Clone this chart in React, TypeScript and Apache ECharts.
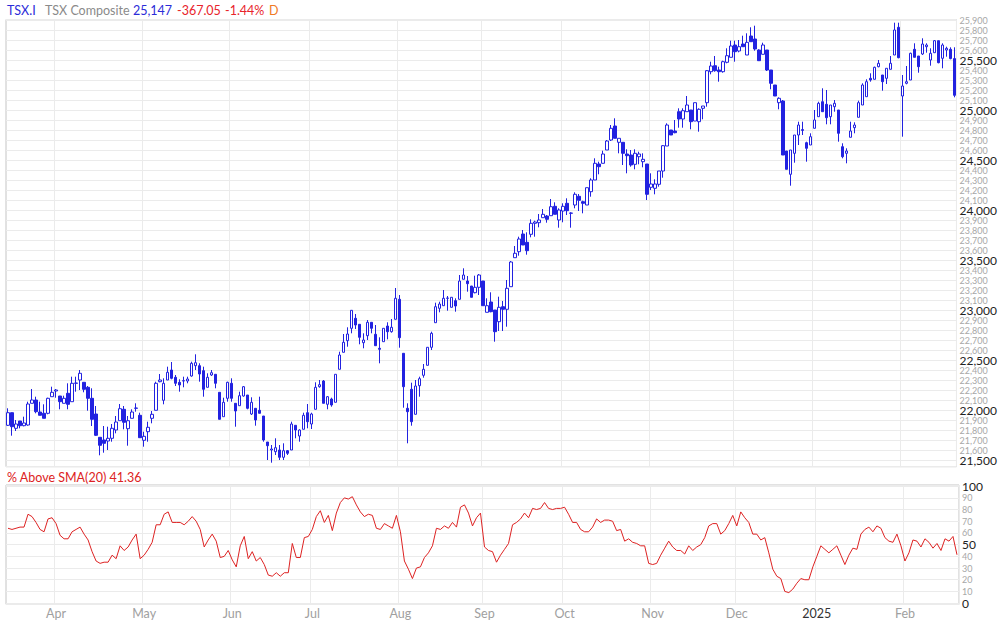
import React, { useEffect, useRef } from "react";
import * as echarts from "echarts";

// Trading calendar (TSX): first and last session, market holidays
const firstDay = "2024-03-13";
const lastDay = "2025-02-21";
const holidays = [
  "2024-03-29", "2024-05-20", "2024-07-01", "2024-08-05", "2024-09-02",
  "2024-10-14", "2024-12-25", "2024-12-26", "2025-01-01", "2025-02-17",
];
const monthNames = ["2025", "Feb", "Mar", "Apr", "May", "Jun", "Jul", "Aug", "Sep", "Oct", "Nov", "Dec"];

// Daily candles: [open, close, low, high]
const candles: number[][] = [
  [21847,21973,21840,22017],[21973,21833,21743,21975],[21817,21860,21790,21900],[21890,21843,21817,21890],[21843,21870,21837,21933],
  [21850,22060,21843,22083],[22067,22100,22067,22210],[22100,21983,21967,22133],[21980,21947,21947,22083],[21967,21917,21917,22057],
  [21967,22117,21957,22123],[22133,22177,22133,22233],[22190,22200,22123,22210],[22140,22083,22007,22140],[22067,22117,22067,22143],
  [22167,22057,22007,22267],[22083,22267,22083,22333],[22267,22270,22183,22333],[22300,22367,22200,22400],[22277,22207,22177,22277],
  [22227,22117,21993,22240],[22117,21907,21840,22217],[21960,21747,21740,22040],[21727,21647,21547,21727],[21700,21667,21573,21840],
  [21690,21717,21600,21833],[21717,21817,21683,21860],[21800,21880,21767,21940],[21893,22013,21893,22060],[22007,21877,21807,22040],
  [21813,21893,21643,21940],[21917,21980,21917,22007],[22017,22020,21983,22067],[21947,21723,21723,21973],[21697,21737,21633,21783],
  [21783,21827,21683,21883],[21917,21957,21867,21990],[21997,22267,21997,22283],[22283,22300,22277,22360],[22097,22267,22057,22317],
  [22300,22377,22300,22433],[22400,22317,22307,22480],[22327,22267,22240,22350],[22277,22250,22183,22307],[22290,22293,22227,22333],
  [22290,22310,22267,22333],[22340,22467,22333,22483],[22443,22473,22400,22557],[22443,22360,22283,22467],[22393,22207,22133,22433],
  [22227,22327,22227,22367],[22350,22373,22340,22400],[22357,22267,22217,22357],[22177,21907,21907,22177],[21933,22077,21933,22123],
  [22117,22277,22083,22283],[22267,22117,22083,22317],[22067,21990,21833,22067],[22043,22143,22043,22183],[22140,22233,22133,22240],
  [22150,22017,22007,22150],[21960,22077,21950,22127],[22017,21900,21843,22017],[21997,21967,21967,22133],[21940,21700,21683,21940],
  [21680,21643,21500,21680],[21600,21610,21473,21650],[21583,21623,21550,21717],[21600,21527,21500,21650],[21527,21593,21500,21667],
  [21593,21567,21550,21600],[21600,21860,21600,21883],[21847,21800,21717,21847],[21740,21800,21683,21807],[21807,21947,21807,21973],
  [21973,21883,21817,22060],[21860,21960,21810,21973],[22007,22227,22007,22277],[22233,22253,22223,22300],[22290,22067,22067,22300],
  [22057,22133,22007,22140],[22110,22050,22033,22123],[22077,22357,22077,22357],[22407,22550,22407,22583],[22577,22677,22577,22760],
  [22693,22760,22633,22827],[22817,22997,22767,22997],[22917,22850,22810,22960],[22857,22727,22657,22857],[22673,22700,22617,22767],
  [22743,22877,22700,22900],[22877,22817,22767,22877],[22757,22643,22643,22850],[22617,22607,22467,22727],[22683,22817,22683,22817],
  [22840,22783,22707,22877],[22783,22827,22773,22910],[22907,23117,22907,23220],[23107,22723,22623,23150],[22567,22233,22023,22567],
  [22017,21983,21667,22067],[22207,21883,21843,22273],[21957,22240,21957,22300],[22243,22313,22133,22333],[22347,22407,22323,22460],
  [22447,22627,22447,22627],[22627,22767,22600,22783],[22873,23033,22873,23073],[23017,23060,22977,23083],[23043,23117,23043,23200],
  [23117,23120,22993,23140],[23027,23127,23027,23127],[23093,23040,22983,23117],[23107,23290,23107,23350],[23307,23350,23307,23417],
  [23290,23263,23183,23340],[23240,23127,23127,23240],[23173,23227,23167,23343],[23227,23350,23150,23360],[23290,23043,23043,23290],
  [22977,23043,22977,23117],[23080,22983,22977,23177],[23000,22783,22683,23000],[22883,23027,22790,23133],[23033,23007,22790,23090],
  [23007,23217,22833,23300],[23233,23480,23233,23490],[23523,23567,23523,23640],[23583,23710,23543,23733],[23760,23650,23650,23800],
  [23677,23593,23553,23777],[23757,23867,23727,23907],[23867,23880,23733,23893],[23873,23900,23827,23960],[23923,23957,23923,24010],
  [23940,23907,23873,23950],[23943,24033,23943,24110],[24037,23957,23957,24077],[23900,24000,23823,24017],[23990,24037,23877,24067],
  [24067,23993,23950,24117],[23967,23970,23823,23977],[24050,24157,24017,24177],[24137,24097,23990,24160],[24083,24067,23967,24093],
  [24050,24223,24050,24223],[24183,24300,24133,24317],[24300,24467,24300,24517],[24460,24433,24357,24483],[24467,24560,24467,24593],
  [24600,24690,24600,24700],[24700,24817,24690,24850],[24840,24717,24717,24917],[24677,24717,24567,24717],[24677,24567,24450,24677],
  [24560,24543,24367,24607],[24550,24450,24433,24600],[24457,24567,24407,24607],[24533,24560,24457,24583],[24483,24507,24427,24567],
  [24460,24157,24100,24460],[24227,24260,24200,24367],[24217,24260,24157,24307],[24257,24390,24233,24390],[24390,24643,24323,24650],
  [24640,24850,24640,24867],[24800,24750,24750,24800],[24790,24773,24767,24900],[24983,24910,24823,25017],[24910,24993,24823,25017],
  [24983,25050,24983,25140],[25000,24883,24807,25000],[24890,25073,24890,25073],[24883,25007,24783,25017],[25017,25040,24907,25040],
  [25073,25393,25033,25400],[25383,25440,25357,25483],[25443,25393,25383,25540],[25400,25383,25283,25433],[25383,25483,25373,25493],
  [25477,25543,25467,25617],[25527,25640,25527,25693],[25650,25583,25483,25693],[25590,25633,25577,25700],[25660,25633,25633,25743],
  [25550,25677,25550,25767],[25740,25683,25683,25827],[25710,25610,25593,25843],[25600,25493,25493,25607],[25557,25650,25557,25673],
  [25600,25400,25390,25600],[25400,25267,25207,25400],[25250,25140,25140,25250],[25073,25117,25007,25127],[25090,24550,24550,25100],
  [24590,24407,24407,24590],[24357,24600,24243,24600],[24567,24750,24473,24750],[24750,24850,24650,24883],[24795,24805,24750,24883],
  [24673,24617,24483,24683],[24650,24733,24650,24767],[24817,24900,24817,25000],[24933,25067,24933,25083],[25083,24983,24983,25217],
  [25057,24923,24857,25200],[24933,25050,24857,25050],[25033,25067,24983,25100],[25000,24767,24683,25000],[24633,24533,24517,24667],
  [24567,24590,24467,24617],[24727,24790,24727,24883],[24823,24850,24767,24877],[24927,25073,24927,25093],[25050,25250,25050,25267],
  [25133,25283,25133,25307],[25317,25300,25283,25367],[25307,25427,25307,25433],[25433,25467,25427,25500],[25350,25283,25193,25350],
  [25317,25417,25260,25417],[25407,25467,25407,25540],[25550,25800,25550,25873],[25827,25523,25517,25873],[25140,25240,24733,25350],
  [25267,25283,25257,25440],[25300,25567,25300,25573],[25607,25527,25527,25667],[25540,25433,25373,25540],[25560,25660,25550,25717],
  [25633,25650,25573,25667],[25500,25567,25443,25617],[25573,25693,25573,25700],[25693,25473,25467,25693],[25517,25650,25417,25667],
  [25600,25617,25533,25633],[25607,25514,25507,25627],[25514,25147,25127,25627],
];

// % of stocks above their 20-day SMA
const pctAboveSma = [
  64,63,64,65,65,76,74,69,63,61,
  72,73,68,58,55,55,61,63,65,59,
  54,44,36,34,35,35,41,38,49,45,
  48,54,59,38,41,46,52,67,67,76,
  78,69,69,69,67,70,74,70,63,48,
  54,59,53,39,40,45,37,31,49,57,
  38,44,36,39,33,24,23,26,23,26,
  26,51,39,39,56,57,63,74,79,69,
  75,62,77,86,90,89,91,84,78,74,
  76,75,64,63,68,66,64,75,61,36,
  29,21,30,31,39,43,49,64,63,66,
  64,69,65,82,84,77,66,73,77,48,
  45,44,35,41,46,51,67,69,72,77,
  73,81,80,81,86,81,80,81,81,82,
  76,69,69,63,61,61,65,72,69,71,
  71,70,62,63,53,55,52,51,49,49,
  34,33,34,41,47,53,48,45,45,42,
  49,45,48,50,56,66,68,68,59,62,
  68,75,66,78,73,69,59,59,54,56,
  43,29,23,21,10,9,12,17,21,20,
  20,31,40,49,46,43,46,49,41,33,
  41,47,46,59,63,65,61,66,64,56,
  53,52,59,49,36,43,54,53,48,55,
  52,47,51,45,55,53,57,41.36,
];

const headerTexts = [
  { text: "TSX.I", color: "#2b2bd8" },
  { text: "TSX Composite", color: "#8a8a8a" },
  { text: "25,147", color: "#2b2bd8" },
  { text: "-367.05", color: "#e8232b" },
  { text: "-1.44%", color: "#e8232b" },
  { text: "D", color: "#f07a24" },
];
const headerX = [7, 45, 133, 177, 225, 269];
const smaTitle = "% Above SMA(20) 41.36";

function tradingDays(): string[] {
  const out: string[] = [];
  const d = new Date(firstDay + "T00:00:00Z");
  const end = new Date(lastDay + "T00:00:00Z");
  while (d <= end) {
    const iso = d.toISOString().slice(0, 10);
    const wd = d.getUTCDay();
    if (wd !== 0 && wd !== 6 && holidays.indexOf(iso) < 0) out.push(iso);
    d.setUTCDate(d.getUTCDate() + 1);
  }
  return out;
}

const BLUE = "#2222e0";
const RED = "#dd2222";
const GRID = "#ebebeb";
const FONT = "Lato";

export default function App() {
  const ref = useRef<HTMLDivElement>(null);
  useEffect(() => {
    if (!ref.current) return;
    const chart = echarts.init(ref.current, undefined, { renderer: "svg" });
    const dates = tradingDays();
    const isMonthStart = dates.map((d, i) => i > 0 && d.slice(5, 7) !== dates[i - 1].slice(5, 7));
    const monthLabel = (d: string) => monthNames[parseInt(d.slice(5, 7), 10) - 1];

    const priceLabel = (v: number) => {
      if (Math.abs(v % 100) > 0.001) return "";
      const s = v.toLocaleString("en-US");
      return v % 500 === 0 ? `{maj|${s}}` : `{min|${s}}`;
    };
    const pctLabel = (v: number) => {
      if (Math.abs(v % 10) > 0.001 || v < 0 || v > 100) return "";
      return v % 50 === 0 ? `{maj|${v}}` : `{min|${v}}`;
    };
    const labelRich = {
      maj: { fontSize: 12, lineHeight: 9, color: "#222", fontFamily: FONT },
      min: { fontSize: 9, lineHeight: 9, color: "#a8a8a8", fontFamily: FONT },
    };

    const graphics: any[] = headerTexts.map((h, i) => ({
      type: "text",
      x: headerX[i],
      y: 10,
      style: { text: h.text, fill: h.color, fontSize: 12.5, fontFamily: FONT, verticalAlign: "middle" },
    }));
    graphics.push({
      type: "text",
      x: 7,
      y: 477,
      style: { text: smaTitle, fill: RED, fontSize: 12.5, fontFamily: FONT, verticalAlign: "middle" },
    });

    const catAxisBase = {
      type: "category",
      data: dates,
      boundaryGap: true,
      axisLine: { show: false },
      axisTick: { show: false },
      splitLine: {
        show: true,
        interval: (i: number) => isMonthStart[i],
        lineStyle: { color: GRID, width: 1 },
      },
    };

    chart.setOption({
      animation: false,
      backgroundColor: "#fff",
      textStyle: { fontFamily: FONT },
      graphic: graphics,
      grid: [
        { left: 6, right: 41, top: 19.5, height: 447.2, show: true, borderColor: "#c4c4c4", borderWidth: 1, containLabel: false },
        { left: 6, right: 41, top: 485, height: 119.3, show: true, borderColor: "#c4c4c4", borderWidth: 1, containLabel: false },
      ],
      xAxis: [
        { ...catAxisBase, gridIndex: 0, axisLabel: { show: false } },
        {
          ...catAxisBase,
          gridIndex: 1,
          axisLabel: {
            show: true,
            interval: (i: number) => isMonthStart[i],
            margin: 3,
            formatter: (v: string) => {
              const m = monthLabel(v);
              return m === "2025" ? `{y|${m}}` : `{m|${m}}`;
            },
            rich: {
              m: { fontSize: 12.5, color: "#a0a0a0", fontFamily: FONT },
              y: { fontSize: 12.5, color: "#333", fontFamily: FONT },
            },
          },
        },
      ],
      yAxis: [
        {
          type: "value",
          gridIndex: 0,
          position: "right",
          min: 21433,
          max: 25905,
          splitNumber: 45,
          minInterval: 100,
          maxInterval: 100,
          scale: true,
          axisLine: { show: false },
          axisTick: { show: false },
          splitLine: { show: true, lineStyle: { color: GRID, width: 1 } },
          axisLabel: { margin: 3, formatter: priceLabel, rich: labelRich },
        },
        {
          type: "value",
          gridIndex: 1,
          position: "right",
          min: -1,
          max: 101,
          splitNumber: 10,
          minInterval: 10,
          maxInterval: 10,
          axisLine: { show: false },
          axisTick: { show: false },
          splitLine: { show: true, lineStyle: { color: GRID, width: 1 } },
          axisLabel: { margin: 3, formatter: pctLabel, rich: labelRich },
        },
      ],
      series: [
        {
          type: "candlestick",
          xAxisIndex: 0,
          yAxisIndex: 0,
          data: candles,
          barWidth: 3,
          itemStyle: {
            color: "#ffffff",
            color0: BLUE,
            borderColor: BLUE,
            borderColor0: BLUE,
            borderWidth: 1,
          },
        },
        {
          type: "line",
          xAxisIndex: 1,
          yAxisIndex: 1,
          data: pctAboveSma,
          symbol: "none",
          lineStyle: { color: RED, width: 1 },
        },
      ],
    });
    return () => chart.dispose();
  }, []);

  return (
    <div
      ref={ref}
      style={{ position: "absolute", left: 0, top: 0, width: 1000, height: 622, background: "#fff" }}
    />
  );
}
